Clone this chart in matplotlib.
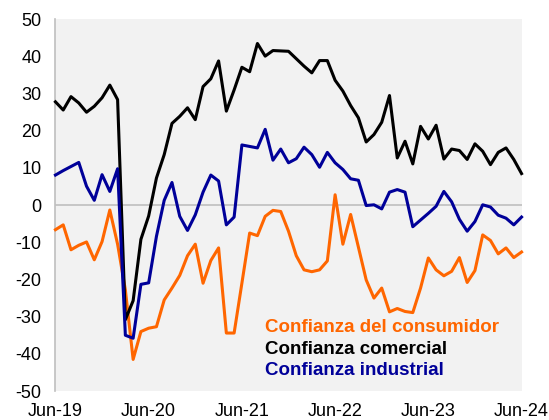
import matplotlib
matplotlib.use("Agg")
import matplotlib.pyplot as plt

plt.rcParams['font.family'] = ['Liberation Sans', 'DejaVu Sans']
plt.rcParams['axes.unicode_minus'] = False

# monthly series, Jun-19 .. Jun-24
months = list(range(61))
tick_pos = [0, 12, 24, 36, 48, 60]
tick_labels = ['Jun-19', 'Jun-20', 'Jun-21', 'Jun-22', 'Jun-23', 'Jun-24']

consumidor = [-6.6, -5.3, -12.0, -10.8, -9.9, -14.7, -9.8, -1.3, -10.5, -22.8,
              -41.5, -34.0, -33.1, -32.7, -25.5, -22.3, -18.9, -13.6, -10.5, -21.0,
              -14.9, -11.5, -34.4, -34.4, -21.0, -7.5, -8.2, -3.0, -1.4, -1.7,
              -7.0, -13.6, -17.4, -17.9, -17.4, -15.0, 2.8, -10.5, -2.5, -11.3,
              -20.1, -25.0, -22.3, -28.7, -27.8, -28.6, -28.9, -22.3, -14.2, -17.4,
              -19.0, -17.8, -14.1, -20.8, -17.6, -8.0, -9.5, -13.1, -11.5, -14.1,
              -12.6]

comercial = [27.8, 25.6, 29.2, 27.5, 25.0, 26.6, 28.9, 32.3, 28.4, -30.8,
             -25.7, -9.2, -2.9, 7.3, 13.6, 22.0, 23.9, 26.2, 23.0, 31.9,
             34.0, 38.8, 25.3, 31.0, 37.1, 35.9, 43.5, 40.1, 41.6, 41.5,
             41.4, 39.4, 37.4, 35.6, 38.9, 38.9, 33.6, 30.7, 26.8, 23.5,
             17.0, 19.0, 22.3, 29.5, 12.7, 17.2, 11.1, 21.2, 17.8, 21.5,
             12.4, 15.1, 14.7, 12.3, 16.5, 14.5, 10.9, 14.2, 15.4, 12.3,
             8.5]

industrial = [8.1, 9.3, 10.4, 11.5, 5.1, 1.3, 8.2, 3.7, 9.8, -35.0,
              -35.8, -21.3, -20.9, -8.4, 1.3, 6.1, -3.0, -6.8, -2.6, 3.5,
              8.1, 6.5, -5.3, -3.2, 16.2, 15.8, 15.4, 20.4, 12.1, 15.1,
              11.4, 12.5, 15.6, 13.6, 10.2, 14.2, 11.4, 9.6, 7.1, 6.7,
              -0.1, 0.1, -1.0, 3.5, 4.2, 3.5, -5.8, -4.0, -2.2, -0.3,
              3.7, 0.9, -3.8, -7.0, -4.4, 0.1, -0.5, -2.7, -3.5, -5.3,
              -3.2]

orange = '#FF6600'
blue = '#000099'

fig = plt.figure(figsize=(5.49, 4.2), dpi=100)
ax = fig.add_axes([0.101, 0.069, 0.849, 0.885])
ax.set_facecolor('#F2F2F2')

ax.axhline(0, color='#BFBFBF', lw=1.2, zorder=1)
ax.plot(months, consumidor, color=orange, lw=2.2, zorder=3, clip_on=False)
ax.plot(months, comercial, color='black', lw=2.2, zorder=3, clip_on=False)
ax.plot(months, industrial, color=blue, lw=2.2, zorder=3, clip_on=False)

ax.set_xlim(0, 60)
ax.set_ylim(-50, 50)
ax.set_yticks(range(-50, 51, 10))
ax.set_xticks(tick_pos)
ax.set_xticklabels(tick_labels)
ax.tick_params(axis='both', length=0, labelsize=13)
ax.tick_params(axis='y', pad=10)
ax.tick_params(axis='x', pad=8.5)

for s in ['top', 'right', 'bottom']:
    ax.spines[s].set_visible(False)
ax.spines['left'].set_color('#BFBFBF')
ax.spines['left'].set_linewidth(1.2)

ax.text(0.449, 0.170, 'Confianza del consumidor', color=orange, fontsize=13.5,
        fontweight='bold', transform=ax.transAxes, va='center')
ax.text(0.449, 0.113, 'Confianza comercial', color='black', fontsize=13.5,
        fontweight='bold', transform=ax.transAxes, va='center')
ax.text(0.449, 0.0565, 'Confianza industrial', color=blue, fontsize=13.5,
        fontweight='bold', transform=ax.transAxes, va='center')

fig.savefig('out.png', dpi=100)
